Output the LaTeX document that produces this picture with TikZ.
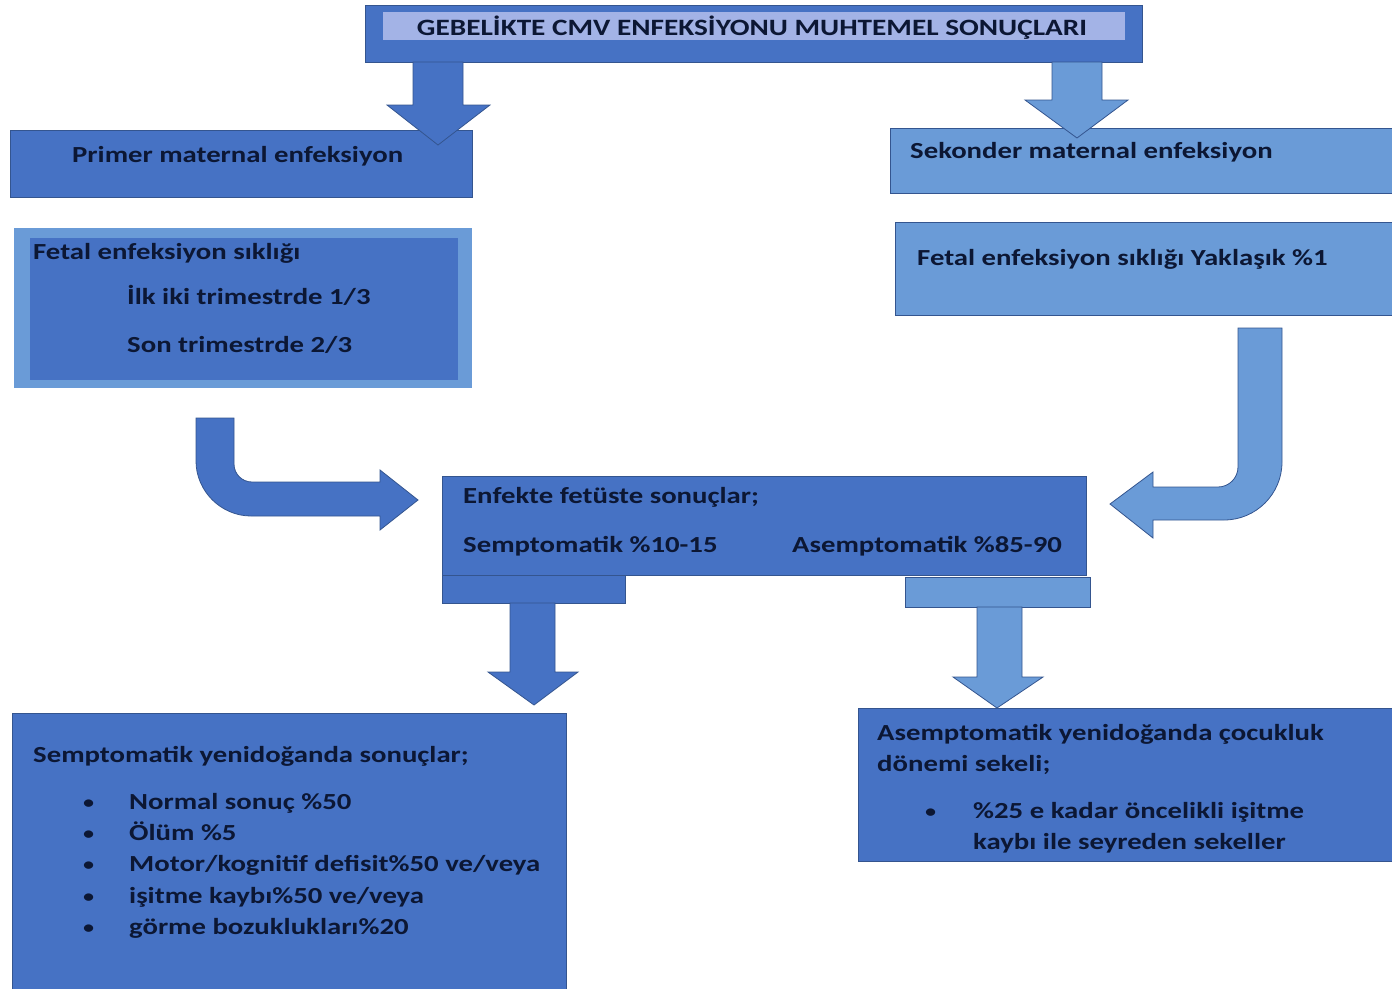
\documentclass[tikz,border=0pt]{standalone}
\usepackage{fontspec}
\setmainfont{Carlito}[FakeStretch=1.25]
\usetikzlibrary{positioning}
\definecolor{boxdark}{HTML}{4672C4}
\definecolor{boxlight}{HTML}{6A9BD7}
\definecolor{titlelight}{HTML}{A3B3E6}
\definecolor{edgeblue}{HTML}{34558F}
\definecolor{textnavy}{HTML}{0C1734}
\begin{document}
\begin{tikzpicture}[x=1pt, y=-1pt,
        every node/.style={inner sep=0pt, text=textnavy, font=\fontsize{23}{27}\selectfont\bfseries},
        panel/.style={rectangle, draw=edgeblue, line width=0.8pt, anchor=north west},
        darkpanel/.style={panel, fill=boxdark},
        lightpanel/.style={panel, fill=boxlight},
        label/.style={anchor=mid west, yshift=-5pt},
        dot/.style={label, font=\fontsize{21}{24}\selectfont},
        darkarrow/.style={fill=boxdark, draw=edgeblue, line width=0.8pt},
        lightarrow/.style={fill=boxlight, draw=edgeblue, line width=0.8pt}
        ]
        \useasboundingbox (0,0) rectangle (1392,988);

        % Boxes
        \node[darkpanel, minimum width=777pt, minimum height=57pt] (title) at (365,5) {};
        \node[panel, draw=none, fill=titlelight, minimum width=742pt, minimum height=28pt] (titlein) at (383,12) {};
        \node[yshift=-1pt, font=\fontsize{23.4}{27}\selectfont\bfseries] (titletext) at (752,27) {GEBELİKTE CMV ENFEKSİYONU MUHTEMEL SONUÇLARI};

        \node[darkpanel, minimum width=462pt, minimum height=67pt] (primer) at (10,130) {};
        \node[lightpanel, minimum width=502pt, minimum height=65pt] (sekonder) at (890,128) {};

        \node[lightpanel, draw=none, minimum width=458pt, minimum height=160pt] (fetalL) at (14,228) {};
        \node[darkpanel, draw=none, minimum width=428pt, minimum height=142pt] (fetalLin) at (30,238) {};
        \node[lightpanel, minimum width=497pt, minimum height=93pt] (fetalR) at (895,222) {};

        \node[darkpanel, minimum width=644pt, minimum height=99pt] (fetus) at (442,476) {};
        \node[darkpanel, minimum width=554pt, minimum height=285pt] (semp) at (12,713) {};
        \node[darkpanel, minimum width=540pt, minimum height=153pt] (asemp) at (858,708) {};

        % Texts
        \node[label] (primertext) at (72,155) {Primer maternal enfeksiyon};
        \node[label] (sekondertext) at (910,151) {Sekonder maternal enfeksiyon};
        \node[label] (fetalL1) at (33,252) {Fetal enfeksiyon sıklığı};
        \node[label] (fetalL2) at (127,297) {İlk iki trimestrde 1/3};
        \node[label] (fetalL3) at (127,345) {Son trimestrde 2/3};
        \node[label] (fetalRtext) at (917,258) {Fetal enfeksiyon sıklığı Yaklaşık \%1};
        \node[label] (fetus1) at (463,496) {Enfekte fetüste sonuçlar;};
        \node[label] (fetus2) at (463,545) {Semptomatik \%10-15};
        \node[label] (fetus3) at (792,545) {Asemptomatik \%85-90};

        \node[label] (semp0) at (33,755) {Semptomatik yenidoğanda sonuçlar;};
        \foreach \y/\txt [count=\i] in {802/{Normal sonuç \%50}, 833/{Ölüm \%5},
                864/{Motor/kognitif defisit\%50 ve/veya}, 896/{işitme kaybı\%50 ve/veya},
                927/{görme bozuklukları\%20}} {
            \node[dot] (sempdot\i) at (82,\y) {\textbullet};
            \node[label] (semp\i) at (129,\y) {\txt};
        }

        \node[label] (asemp1) at (877,733) {Asemptomatik yenidoğanda çocukluk};
        \node[label] (asemp2) at (877,764) {dönemi sekeli;};
        \node[dot] (asempdot) at (924,811) {\textbullet};
        \node[label] (asemp3) at (973,811) {\%25 e kadar öncelikli işitme};
        \node[label] (asemp4) at (973,842) {kaybı ile seyreden sekeller};

        % Arrows
        \coordinate (tipA) at (438,145);
        \coordinate (tipB) at (1077,138);
        \fill[darkarrow] (413,62) -- (463,62) -- (463,105) -- (490,105) -- (tipA)
            -- (387,105) -- (413,105) -- cycle;
        \fill[lightarrow] (1052,62) -- (1102,62) -- (1102,100) -- (1128,100) -- (tipB)
            -- (1025,100) -- (1052,100) -- cycle;

        \coordinate (tipC) at (418,500);
        \fill[darkarrow] (196,418) -- (234,418) -- (234,464)
            .. controls (234,474) and (242,482) .. (252,482) -- (380,482) -- (380,470)
            -- (tipC) -- (380,530) -- (380,516) -- (251,516)
            .. controls (221,516) and (196,491) .. (196,461) -- cycle;

        \coordinate (tipD) at (1110,504);
        \fill[lightarrow] (1238,328) -- (1282,328) -- (1282,462)
            .. controls (1282,494) and (1256,520) .. (1224,520) -- (1153,520) -- (1153,538)
            -- (tipD) -- (1153,472) -- (1153,487) -- (1218,487)
            .. controls (1229,487) and (1238,478) .. (1238,467) -- cycle;

        \coordinate (tipE) at (534,705);
        \fill[darkarrow] (442,575) rectangle (625,603);
        \fill[darkarrow] (510,603) -- (555,603) -- (555,672) -- (578,672) -- (tipE)
            -- (488,672) -- (510,672) -- cycle;

        \coordinate (tipF) at (997,708);
        \fill[lightarrow] (905,577) rectangle (1090,607);
        \fill[lightarrow] (977,607) -- (1022,607) -- (1022,677) -- (1043,677) -- (tipF)
            -- (953,677) -- (977,677) -- cycle;
    \end{tikzpicture}
\end{document}
